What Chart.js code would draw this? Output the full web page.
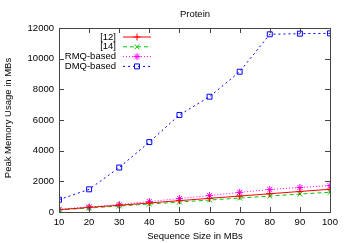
<!DOCTYPE html>
<html>
<head>
<meta charset="utf-8">
<script src="https://cdn.jsdelivr.net/npm/chart.js@4/dist/chart.umd.min.js"></script>
<style>
  html, body { margin: 0; padding: 0; background: #fff; }
  #wrap { width: 348px; height: 243px; }
</style>
</head>
<body>
<div id="wrap"><canvas id="myChart" width="348" height="243"></canvas></div>
<script>
const tamanos = [10, 20, 30, 40, 50, 60, 70, 80, 90, 100];
const ref12 = [150, 300, 440, 590, 740, 890, 1040, 1190, 1340, 1480];
const ref14 = [130, 260, 390, 520, 650, 780, 910, 1040, 1170, 1290];
const rmq = [175, 330, 480, 680, 880, 1070, 1280, 1470, 1600, 1720];
const dmq = [800, 1480, 2900, 4560, 6330, 7520, 9150, 11590, 11630, 11650];
const xTicks = [10, 20, 30, 40, 50, 60, 70, 80, 90, 100];
const yTicks = [0, 2000, 4000, 6000, 8000, 10000, 12000];

const fuente = '"Liberation Sans", Arial, sans-serif';
const tamFuente = 9.5;

function puntos(valores) {
    return tamanos.map((x, i) => ({ x: x, y: valores[i] }));
}

// marco, ticks hacia dentro, titulo, etiquetas y leyenda estilo gnuplot
const gnuplotEstilo = {
    id: 'gnuplotEstilo',
    afterDraw(chart) {
        const ctx = chart.ctx;
        const a = chart.chartArea;
        const sx = chart.scales.x;
        const sy = chart.scales.y;
        ctx.save();
        ctx.strokeStyle = '#444';
        ctx.lineWidth = 1;
        ctx.strokeRect(Math.round(a.left) + 0.5, Math.round(a.top) + 0.5,
            Math.round(a.right - a.left), Math.round(a.bottom - a.top));
        ctx.beginPath();
        xTicks.forEach(v => {
            const px = Math.round(sx.getPixelForValue(v)) + 0.5;
            ctx.moveTo(px, a.bottom); ctx.lineTo(px, a.bottom - 5);
            ctx.moveTo(px, a.top); ctx.lineTo(px, a.top + 5);
        });
        yTicks.forEach(v => {
            const py = Math.round(sy.getPixelForValue(v)) + 0.5;
            ctx.moveTo(a.left, py); ctx.lineTo(a.left + 5, py);
            ctx.moveTo(a.right, py); ctx.lineTo(a.right - 5, py);
        });
        ctx.stroke();

        ctx.fillStyle = '#000';
        ctx.font = tamFuente + 'px ' + fuente;
        ctx.textAlign = 'center';
        ctx.textBaseline = 'middle';
        ctx.fillText('Protein', 195, 14);
        ctx.fillText('Sequence Size in MBs', 195, 236);
        ctx.save();
        ctx.translate(8, 118);
        ctx.rotate(-Math.PI / 2);
        ctx.fillText('Peak Memory Usage in MBs', 0, 0);
        ctx.restore();

        // leyenda: texto alineado a la derecha, muestra de linea a la derecha
        chart.data.datasets.forEach((ds, i) => {
            const y = 37 + i * 9.8;
            ctx.fillStyle = '#000';
            ctx.textAlign = 'right';
            ctx.fillText(ds.label, 116, y);
            ctx.strokeStyle = ds.borderColor;
            ctx.lineWidth = 1;
            ctx.setLineDash(ds.borderDash || []);
            ctx.beginPath();
            ctx.moveTo(123, y); ctx.lineTo(151, y);
            ctx.stroke();
            ctx.setLineDash([]);
            ctx.fillStyle = 'rgba(0,0,0,0)';
            Chart.helpers.drawPoint(ctx, {
                pointStyle: ds.pointStyle, radius: ds.pointRadius, rotation: 0,
                borderWidth: 1
            }, 137, y);
        });
        ctx.restore();
    }
};

const ctx = document.getElementById('myChart').getContext('2d');
const myChart = new Chart(ctx, {
    type: 'line',
    data: {
        datasets: [
            { label: '[12]', data: puntos(ref12), borderColor: '#ff0000', backgroundColor: 'rgba(0,0,0,0)',
              pointBorderColor: '#ff0000', borderWidth: 1, pointStyle: 'cross', pointRadius: 3.5 },
            { label: '[14]', data: puntos(ref14), borderColor: '#00cc00', backgroundColor: 'rgba(0,0,0,0)',
              pointBorderColor: '#00cc00', borderWidth: 1, borderDash: [4, 3], pointStyle: 'crossRot', pointRadius: 3.5 },
            { label: 'RMQ-based', data: puntos(rmq), borderColor: '#ff00ff', backgroundColor: 'rgba(0,0,0,0)',
              pointBorderColor: '#ff00ff', borderWidth: 1, borderDash: [1, 2], pointStyle: 'star', pointRadius: 3.5 },
            { label: 'DMQ-based', data: puntos(dmq), borderColor: '#0000ff', backgroundColor: 'rgba(0,0,0,0)',
              pointBorderColor: '#0000ff', borderWidth: 1, borderDash: [2, 3], pointStyle: 'rect', pointRadius: 3.5 }
        ]
    },
    options: {
        responsive: false,
        animation: false,
        layout: { padding: { left: 0, right: 18, top: 28, bottom: 0 } },
        plugins: { legend: { display: false }, title: { display: false }, tooltip: { enabled: false } },
        elements: { line: { fill: false, tension: 0 } },
        scales: {
            x: {
                type: 'linear', min: 10, max: 100,
                afterFit(scale) { scale.height = 31; },
                afterBuildTicks(scale) { scale.ticks = xTicks.map(v => ({ value: v })); },
                grid: { display: false, drawTicks: false },
                border: { display: false },
                ticks: { padding: 5, color: '#000', font: { family: fuente, size: tamFuente }, maxRotation: 0 }
            },
            y: {
                min: 0, max: 12000,
                afterFit(scale) { scale.width = 59; },
                afterBuildTicks(scale) { scale.ticks = yTicks.map(v => ({ value: v })); },
                grid: { display: false, drawTicks: false },
                border: { display: false },
                ticks: { padding: 5, color: '#000', font: { family: fuente, size: tamFuente }, callback: v => String(v) }
            }
        }
    },
    plugins: [gnuplotEstilo]
});
</script>
</body>
</html>
